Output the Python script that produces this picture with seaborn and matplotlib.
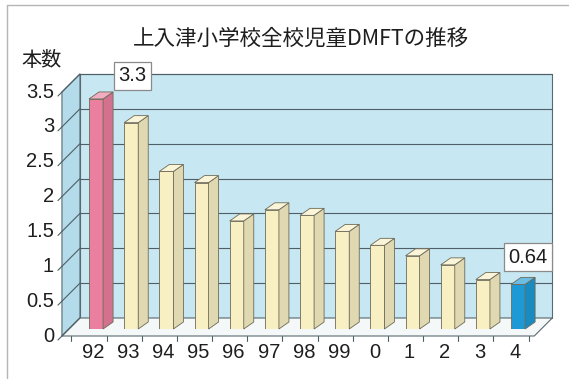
import matplotlib
matplotlib.use("Agg")
import matplotlib.pyplot as plt
import seaborn as sns
import pandas as pd
import numpy as np
from matplotlib.patches import Polygon, Rectangle
from matplotlib.lines import Line2D
from matplotlib.colors import to_rgb

# ---------------- data ----------------
years = ["92", "93", "94", "95", "96", "97", "98", "99", "0", "1", "2", "3", "4"]
dmft = [3.3, 2.96, 2.26, 2.10, 1.55, 1.71, 1.63, 1.40, 1.20, 1.05, 0.92, 0.71, 0.64]
y_ticks = [0, 0.5, 1, 1.5, 2, 2.5, 3, 3.5]
y_tick_labels = ["0", "0.5", "1", "1.5", "2", "2.5", "3", "3.5"]
title = "上入津小学校全校児童DMFTの推移"
y_label = "本数"
callout_years = ["92", "4"]
callout_texts = ["3.3", "0.64"]

# ---------------- style ----------------
sns.set_theme(style="white")
plt.rcParams['font.family'] = ['Liberation Sans', 'Noto Sans CJK JP', 'DejaVu Sans']
CJK = ['Noto Sans CJK JP', 'DejaVu Sans']

W, H, DPI = 569, 379, 100
fig = plt.figure(figsize=(W / DPI, H / DPI), dpi=DPI)
fig.patch.set_facecolor("white")

XL = (-0.8, 12.8)
YL = (0, 3.5)
ax_left_px, ax_right_px = 67.9, 546.2
ax_bottom_px, ax_top_px = 329.0, 85.0   # measured from the top of the image
ax = fig.add_axes([ax_left_px / W, (H - ax_bottom_px) / H,
                   (ax_right_px - ax_left_px) / W, (ax_bottom_px - ax_top_px) / H])
sx = (ax_right_px - ax_left_px) / (XL[1] - XL[0])
sy = (ax_bottom_px - ax_top_px) / (YL[1] - YL[0])


def d(px, py):
    return px / sx, py / sy


pink, cream, blue = "#ea7f9f", "#f8f0c3", "#1d9ad6"
palette = {y: cream for y in years}
palette[years[0]] = pink
palette[years[-1]] = blue

df = pd.DataFrame({"year": years, "dmft": dmft})
sns.barplot(data=df, x="year", y="dmft", hue="year", order=years, hue_order=years,
            palette=palette, width=0.40, legend=False, ax=ax, saturation=1,
            edgecolor="#6e6a58", linewidth=0.6, zorder=6)
bars = list(ax.patches)

ax.set_xlim(*XL)
ax.set_ylim(*YL)
ax.axis("off")

# ---------------- 3D frame ----------------
xa, xb = -0.77, 12.66
fx, fy = d(-7, -7)     # front plane offset
bx, by = d(11, 11)     # back plane offset
ytop = YL[1]
grid_c = "#4f5f66"
edge_c = "#5a6a70"
txt_c = "#1e1e1e"

back_wall = Rectangle((xa + bx, by), xb - xa, ytop, facecolor="#c7e7f2",
                      edgecolor=edge_c, linewidth=0.8, zorder=1, clip_on=False)
ax.add_patch(back_wall)
side_wall = Polygon([(xa + fx, fy), (xa + bx, by), (xa + bx, ytop + by), (xa + fx, ytop + fy)],
                    closed=True, facecolor="#b3dbea", edgecolor=edge_c, linewidth=0.8,
                    zorder=2, clip_on=False)
ax.add_patch(side_wall)
floor = Polygon([(xa + fx, fy), (xb + fx, fy), (xb + bx, by), (xa + bx, by)],
                closed=True, facecolor="#f5f8f8", edgecolor=edge_c, linewidth=0.8,
                zorder=3, clip_on=False)
ax.add_patch(floor)

for v in y_ticks[1:]:
    ax.add_line(Line2D([xa + bx, xb + bx], [v + by, v + by], color=grid_c, lw=0.8,
                       zorder=2, clip_on=False))
for v in y_ticks:
    ax.add_line(Line2D([xa + fx, xa + bx], [v + fy, v + by], color=grid_c, lw=0.8,
                       zorder=3, clip_on=False))
    tx, ty = d(-4, -4)
    ax.add_line(Line2D([xa + fx, xa + fx + tx], [v + fy, v + fy + ty], color=grid_c,
                       lw=0.8, zorder=3, clip_on=False))
    lx, _ = d(-8, 0)
    ax.text(xa + fx + lx, v + fy, dict(zip(y_ticks, y_tick_labels))[v], ha="right",
            va="center", fontsize=14.5, color=txt_c, zorder=7)

# floor ticks between categories
_, tdy = d(0, -5)
for i in range(len(years) + 1):
    xt = i - 0.5 + fx
    if xa + fx <= xt <= xb + fx:
        ax.add_line(Line2D([xt, xt], [fy, fy + tdy], color=grid_c, lw=0.8, zorder=4,
                           clip_on=False))

# x tick labels
lxo, lyo = d(-3, -24)
for i, yr in enumerate(years):
    ax.text(i + lxo, lyo, yr, ha="center", va="center", fontsize=14.5,
            color=txt_c, zorder=7)


# ---------------- bar side & top faces ----------------
def shade(c, f):
    r = np.array(to_rgb(c))
    if f < 1:
        return tuple(r * f)
    return tuple(r + (1 - r) * (f - 1))


ddx, ddy = d(10, 7)
for p, yr in zip(bars, years):
    x0, w, h = p.get_x(), p.get_width(), p.get_height()
    c = palette[yr]
    side = Polygon([(x0 + w, 0), (x0 + w + ddx, ddy), (x0 + w + ddx, h + ddy), (x0 + w, h)],
                   closed=True, facecolor=shade(c, 0.9), edgecolor="#6e6a58",
                   linewidth=0.6, zorder=6, clip_on=False)
    top = Polygon([(x0, h), (x0 + w, h), (x0 + w + ddx, h + ddy), (x0 + ddx, h + ddy)],
                  closed=True, facecolor=shade(c, 1.35), edgecolor="#6e6a58",
                  linewidth=0.6, zorder=6, clip_on=False)
    ax.add_patch(side)
    ax.add_patch(top)

# ---------------- callouts ----------------
offsets = {"92": d(36, 23), "4": d(10, 27)}
for yr, txt in zip(callout_years, callout_texts):
    i = years.index(yr)
    ox, oy = offsets[yr]
    ax.text(i + ox, dmft[i] + oy, txt, ha="center", va="center", fontsize=14.5,
            color=txt_c, zorder=8,
            bbox=dict(boxstyle="square,pad=0.22", fc="white", ec="#8a8a8a", lw=0.9))

# ---------------- titles ----------------
fig.text(301 / W, 1 - 39 / H, title, ha="center", va="center", fontsize=15.5,
         family=CJK, color=txt_c)
fig.text(42 / W, 1 - 61 / H, y_label, ha="center", va="center", fontsize=14.5,
         family=CJK, color=txt_c)

# outer frame
fig.add_artist(Line2D([7 / W, 1.0], [1 - 5 / H, 1 - 5 / H], transform=fig.transFigure,
                      color="#b5b5b5", lw=1))
fig.add_artist(Line2D([7 / W, 7 / W], [0, 1 - 5 / H], transform=fig.transFigure,
                      color="#b5b5b5", lw=1))

fig.savefig("out.png", dpi=DPI)
